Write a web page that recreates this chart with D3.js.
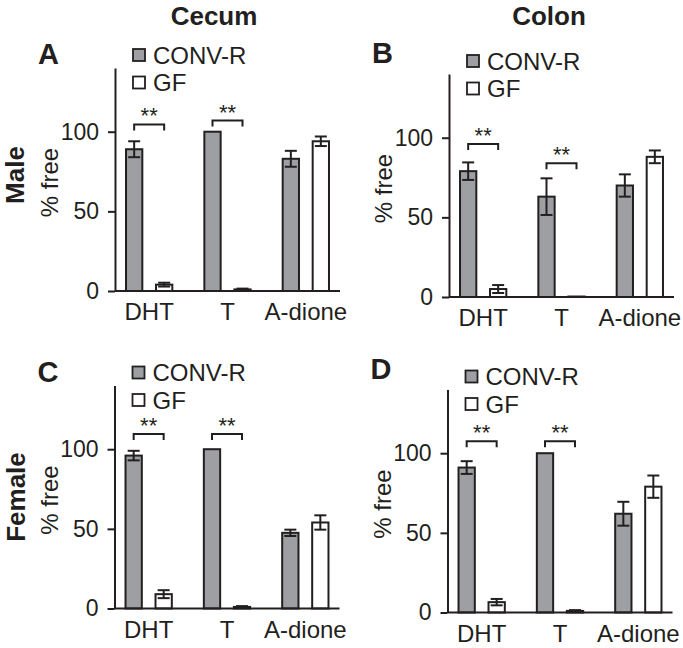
<!DOCTYPE html>
<html>
<head>
<meta charset="utf-8">
<script src="https://cdnjs.cloudflare.com/ajax/libs/d3/7.8.5/d3.min.js"></script>
<style>
body { margin: 0; background: #fff; }
svg text { font-family: "Liberation Sans", Arial, Helvetica, sans-serif; fill: #231f20; }
.axis path, .axis line { stroke: #231f20; stroke-width: 2; }
</style>
</head>
<body>
<script>
let categories = ['DHT', 'T', 'A-dione'];
let series = ['CONV-R', 'GF'];
let yTicks = [0, 50, 100];
let colTitles = ['Cecum', 'Colon'];
let rowTitles = ['Male', 'Female'];
let panelLetters = ['A', 'B', 'C', 'D'];

// % free per panel (A, B, C, D), one value per category
let convR = [[89, 100, 83], [79, 63, 70], [96, 100, 47.5], [91, 100, 62]];
let convRErr = [[5, 0, 5], [5.5, 11.5, 7], [3, 0, 2], [4, 0, 7.5]];
let gf = [[4, 1, 94], [5, 0.3, 88], [9, 1, 54], [6.5, 1, 79]];
let gfErr = [[1.2, 0.5, 3], [2.5, 0, 4], [2.5, 0.5, 4.5], [2, 0.5, 7]];
// level of the ** brackets over DHT and T (in % free)
let sigLevel = [[104.6, 107], [96, 84], [109.6, 109.6], [107.5, 107.5]];
let sigLabel = '**';

let width = 225;
let height = 223;
let barW = 16.3;
let ink = '#231f20';
let fills = { 'CONV-R': '#9e9fa3', 'GF': '#ffffff' };

// where each panel's axes corner sits on the page
let panels = [
  { left: 115, top: 68 },
  { left: 449, top: 74 },
  { left: 114.5, top: 385.5 },
  { left: 447.5, top: 389.5 }
];

let svg = d3.select('body').append('svg')
    .attr('width', 683)
    .attr('height', 648);

// column titles
svg.selectAll('.col-title')
    .data(colTitles)
  .enter().append('text')
    .attr('class', 'col-title')
    .attr('x', function(d, i){ return i === 0 ? 214 : 549; })
    .attr('y', 25)
    .attr('text-anchor', 'middle')
    .style('font-size', '26px')
    .style('font-weight', 'bold')
    .text(function(d){ return d; });

// row titles, rotated
svg.selectAll('.row-title')
    .data(rowTitles)
  .enter().append('text')
    .attr('class', 'row-title')
    .attr('transform', function(d, i){
      return i === 0 ? 'translate(23.5,175) rotate(-90)' : 'translate(25,497) rotate(-90)';
    })
    .attr('text-anchor', 'middle')
    .style('font-size', '26px')
    .style('font-weight', 'bold')
    .text(function(d){ return d; });

let x0 = d3.scaleBand().domain(categories).range([-5, 230]); // groups
let x1 = d3.scalePoint().domain(series).range([-15, 15]); // bars inside a group
let y = d3.scaleLinear().domain([0, 140]).range([height, 0]);

function cx(cat, s) {
  return x0(cat) + x0.bandwidth() / 2 + x1(s);
}

panels.forEach(function(p, k) {
  let g = svg.append('g')
      .attr('transform', 'translate(' + p.left + ',' + p.top + ')');

  // panel letter
  g.append('text')
      .attr('x', -77)
      .attr('y', k % 2 === 0 ? -4 : -11)
      .style('font-size', '29px')
      .style('font-weight', 'bold')
      .text(panelLetters[k]);

  // y axis
  g.append('g')
      .attr('class', 'axis')
      .call(d3.axisLeft(y).tickValues(yTicks).tickSize(7).tickSizeOuter(0).tickPadding(9))
      .call(function(a){ a.selectAll('text').style('font-size', '23px').attr('fill', ink); })
      .attr('font-family', null);

  g.append('text')
      .attr('transform', 'translate(-57,' + (height / 2 + 3) + ') rotate(-90)')
      .attr('text-anchor', 'middle')
      .style('font-size', '24px')
      .text('% free');

  // category labels
  g.append('g')
      .attr('transform', 'translate(0,' + height + ')')
      .call(d3.axisBottom(x0).tickSize(0).tickPadding(12))
      .call(function(a){
        a.select('.domain').remove();
        a.selectAll('text').style('font-size', '24px').attr('fill', ink);
      })
      .attr('font-family', null);

  let rows = [];
  categories.forEach(function(c, i) {
    rows.push({ cat: c, s: 'CONV-R', v: convR[k][i], e: convRErr[k][i] });
    rows.push({ cat: c, s: 'GF', v: gf[k][i], e: gfErr[k][i] });
  });

  // bars
  g.selectAll('.bar')
      .data(rows)
    .enter().append('rect')
      .attr('class', 'bar')
      .attr('x', function(d){ return cx(d.cat, d.s) - barW / 2; })
      .attr('y', function(d){ return y(d.v); })
      .attr('width', barW)
      .attr('height', function(d){ return height - y(d.v); })
      .style('fill', function(d){ return fills[d.s]; })
      .style('stroke', ink)
      .style('stroke-width', 2);

  // error bars
  let err = g.selectAll('.err')
      .data(rows.filter(function(d){ return d.e > 0; }))
    .enter().append('g')
      .attr('class', 'err')
      .style('stroke', ink)
      .style('stroke-width', 2);
  err.append('line')
      .attr('x1', function(d){ return cx(d.cat, d.s); })
      .attr('x2', function(d){ return cx(d.cat, d.s); })
      .attr('y1', function(d){ return y(d.v + d.e); })
      .attr('y2', function(d){ return y(d.v - d.e); });
  [1, -1].forEach(function(sign) {
    err.append('line')
        .attr('x1', function(d){ return cx(d.cat, d.s) - 6; })
        .attr('x2', function(d){ return cx(d.cat, d.s) + 6; })
        .attr('y1', function(d){ return y(d.v + sign * d.e); })
        .attr('y2', function(d){ return y(d.v + sign * d.e); });
  });

  // x axis baseline
  g.append('line')
      .attr('x1', 0)
      .attr('x2', width)
      .attr('y1', height)
      .attr('y2', height)
      .style('stroke', ink)
      .style('stroke-width', 2);

  // significance brackets for DHT and T
  ['DHT', 'T'].forEach(function(c, i) {
    let by = y(sigLevel[k][i]);
    let xa = cx(c, 'CONV-R');
    let xb = cx(c, 'GF');
    g.append('path')
        .attr('d', 'M' + xa + ',' + (by + 6) + 'V' + by + 'H' + xb + 'V' + (by + 6))
        .style('fill', 'none')
        .style('stroke', ink)
        .style('stroke-width', 2);
    g.append('text')
        .attr('x', (xa + xb) / 2)
        .attr('y', by - 1)
        .attr('text-anchor', 'middle')
        .style('font-size', '22px')
        .text(sigLabel);
  });

  // legend
  let leg = g.selectAll('.legend')
      .data(series)
    .enter().append('g')
      .attr('class', 'legend')
      .attr('transform', function(d, i){ return 'translate(18,' + (-19 + i * 27.5) + ')'; });
  leg.append('rect')
      .attr('width', 12)
      .attr('height', 12)
      .style('fill', function(d){ return fills[d]; })
      .style('stroke', ink)
      .style('stroke-width', 1.8);
  leg.append('text')
      .attr('x', 20)
      .attr('y', 14.5)
      .style('font-size', '24px')
      .text(function(d){ return d; });
});
</script>
</body>
</html>
